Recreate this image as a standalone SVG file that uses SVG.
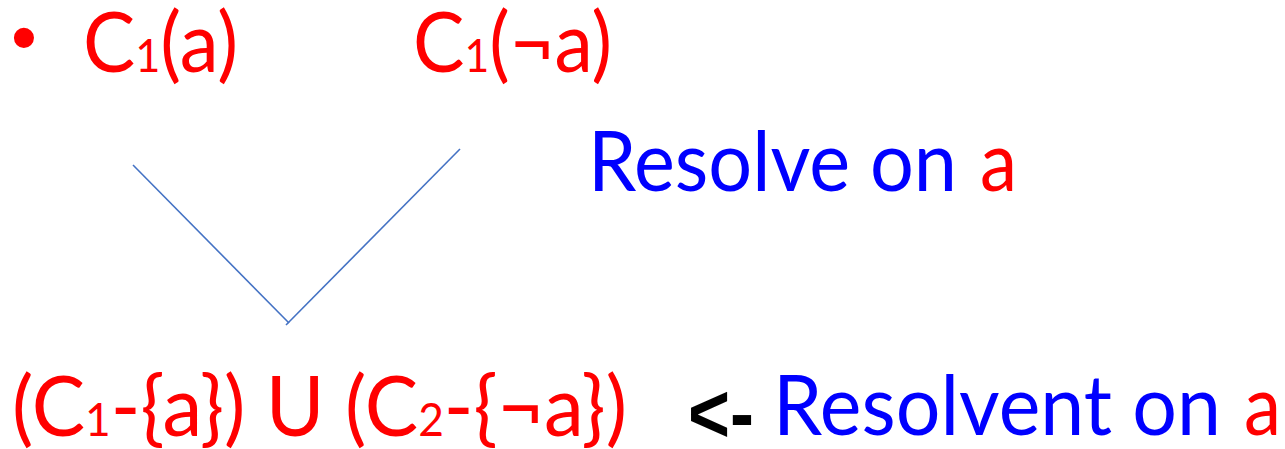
<svg xmlns="http://www.w3.org/2000/svg" width="1285" height="449" viewBox="0 0 1285 449">
<style>
text{font-family:Lato,"Open Sans","Liberation Sans",sans-serif;font-size:83px}
.r{fill:#FF0000}
.b{fill:#0000FF}
.k{fill:#000000;font-weight:bold;font-family:"Liberation Sans",Arial,sans-serif;font-size:84px}
.sub{font-size:46px}
.edge{stroke:#4472C4;stroke-width:1.6;fill:none}
</style>
<rect width="1285" height="449" fill="#FFFFFF"/>
<g id="connectors">
<line class="edge" x1="133" y1="165" x2="289" y2="323"/>
<line class="edge" x1="460" y1="149" x2="286" y2="325"/>
</g>
<g id="bullet"><text x="11" y="63" class="r" style="font-family:'Liberation Sans',sans-serif;font-size:74px">•</text></g>
<g id="clause-a"><text x="83" y="72" class="r" textLength="155" lengthAdjust="spacingAndGlyphs">C<tspan class="sub">1</tspan>(a)</text></g>
<g id="clause-not-a"><text x="413" y="72" class="r" textLength="199" lengthAdjust="spacingAndGlyphs">C<tspan class="sub">1</tspan>(¬a)</text></g>
<g id="resolve-label">
<text x="588" y="191" class="b" textLength="369" lengthAdjust="spacingAndGlyphs">Resolve on</text>
<text x="980" y="191" class="r" textLength="37" lengthAdjust="spacingAndGlyphs">a</text>
</g>
<g id="resolvent"><text x="12" y="436" class="r" textLength="615" lengthAdjust="spacingAndGlyphs">(C<tspan class="sub">1</tspan>-{a}) U (C<tspan class="sub">2</tspan>-{¬a})</text></g>
<g id="resolvent-label">
<text x="688" y="442" class="k" textLength="66" lengthAdjust="spacingAndGlyphs">&lt;-</text>
<text x="773" y="435" class="b" textLength="448" lengthAdjust="spacingAndGlyphs">Resolvent on</text>
<text x="1244" y="435" class="r" textLength="37" lengthAdjust="spacingAndGlyphs">a</text>
</g>
</svg>
